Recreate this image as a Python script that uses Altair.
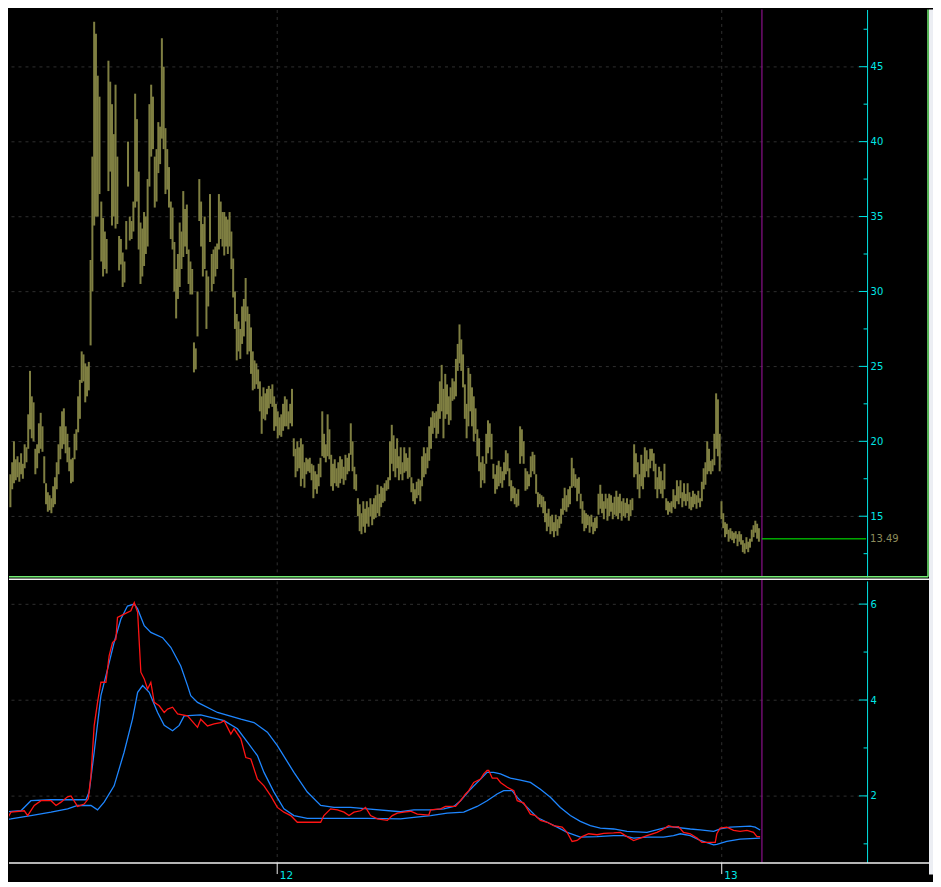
import altair as alt
import pandas as pd

# ---------------- data ----------------
# daily bars: low / high, one value per trading day (index 0 = first bar)
bar_low = [
    15.6, 16.8, 17.2, 17.4, 17.6, 17.3, 17.8, 17.5, 18.2, 18.6,
    19.5, 20.8, 20.2, 20.0, 17.8, 18.2, 19.2, 19.5, 19.3, 17.2,
    15.8, 15.3, 15.4, 15.2, 15.6, 15.8, 16.8, 17.8, 18.8, 19.5,
    19.8, 19.2, 18.6, 18.0, 17.2, 17.3, 18.8, 19.4, 20.6, 21.5,
    23.9, 24.0, 22.6, 23.0, 23.4, 26.4, 30.0, 34.4, 35.0, 35.0,
    36.5, 32.0, 31.0, 31.5, 31.2, 36.7, 38.0, 34.4, 35.0, 34.2,
    34.5, 31.4, 31.8, 30.3, 30.6, 32.8, 37.0, 33.4, 33.5, 34.0,
    35.6, 36.0, 32.8, 30.5, 31.0, 31.7, 32.5, 33.0, 37.0, 39.0,
    39.5, 35.6, 36.0, 37.9, 38.5, 40.2, 39.5, 36.5, 36.8, 35.6,
    33.5, 32.8, 30.0, 28.2, 29.5, 30.3, 31.5, 32.3, 33.0, 32.5,
    30.5, 29.8, 29.8, 24.6, 24.8, 27.0, 34.7, 33.0, 31.0, 31.5,
    27.5, 29.0, 33.3, 30.0, 30.5, 31.0, 31.5, 32.8, 33.5, 33.0,
    32.4, 33.0, 32.5, 33.0, 31.5, 29.6, 27.5, 25.4, 26.0, 25.5,
    26.5, 27.0, 28.0, 25.8, 26.0, 24.5, 23.4, 23.5, 23.8, 23.5,
    22.0, 20.5, 21.5, 21.4, 21.8, 22.2, 22.5, 22.3, 20.7, 21.0,
    20.2, 20.4, 20.3, 20.7, 21.0, 21.0, 20.8, 21.2, 21.0, 19.0,
    17.6, 18.0, 18.2, 17.0, 17.5, 16.9, 17.8, 18.0, 17.9, 17.4,
    16.2, 16.8, 16.5, 17.0, 17.6, 19.0, 18.9, 18.6, 19.0, 18.8,
    17.0, 16.7, 17.2, 17.0, 16.9, 17.2, 17.5, 17.1, 17.4, 17.8,
    18.0, 19.1, 18.0, 16.8, 16.7, 15.0, 14.0, 13.8, 14.3, 13.9,
    14.5, 14.3, 15.0, 14.4, 14.8, 14.9, 15.2, 15.0, 15.6, 15.9,
    16.0, 16.7, 16.8, 17.4, 18.5, 18.0, 17.6, 18.2, 17.4, 17.8,
    17.4, 17.9, 18.0, 17.5, 17.6, 16.6, 16.0, 15.8, 16.2, 16.4,
    16.0, 17.0, 17.6, 17.8, 18.2, 18.7, 19.5, 20.5, 20.9, 20.2,
    20.5, 21.5, 22.0, 20.2, 21.5, 21.8, 21.1, 21.4, 22.7, 22.8,
    23.0, 24.7, 25.2, 24.7, 23.6, 21.5, 20.2, 21.0, 22.0, 21.0,
    20.0, 20.5, 19.0, 18.0, 16.9, 17.4, 17.2, 18.5, 19.2, 19.6,
    18.8, 17.5, 16.5, 16.8, 17.0, 17.2, 16.9, 17.4, 17.8, 18.0,
    17.0, 16.0, 16.2, 15.8, 15.6, 15.7, 18.5, 19.0, 18.5, 16.7,
    16.8, 17.0, 17.6, 18.0, 17.8, 16.5, 15.6, 15.8, 15.6, 15.2,
    14.6, 14.0, 14.3, 13.8, 14.0, 13.6, 14.0, 13.7, 14.2, 14.5,
    15.1, 15.4, 15.3, 15.6, 15.8, 16.9, 17.0, 16.9, 16.0, 16.5,
    15.5, 14.5, 14.0, 14.2, 14.4, 13.9, 14.3, 13.8, 14.0, 14.2,
    15.1, 15.5, 15.2, 14.8, 15.5, 14.7, 15.0, 15.3, 14.8, 15.1,
    15.0, 14.8, 15.2, 14.7, 15.0, 14.9, 15.2, 14.7, 15.0, 15.4,
    17.6, 17.8, 16.8, 16.2, 17.0, 16.8, 17.6, 18.0, 17.6, 18.2,
    18.7, 18.0, 16.8, 16.2, 16.8, 16.5, 16.2, 16.8, 15.4, 15.1,
    15.3, 15.2, 15.6, 15.5, 16.0, 15.8, 16.2, 15.6, 16.0, 15.7,
    16.0, 15.5, 15.4, 15.6, 15.8, 15.5, 15.9, 15.6, 16.0, 16.8,
    17.1, 17.8, 18.0, 17.8, 18.0, 18.4, 19.5, 19.0, 18.0, 14.8,
    14.2, 13.6, 13.8, 13.3, 13.5, 13.4, 13.2, 13.5, 13.0, 13.3,
    13.1, 12.6, 12.5, 12.8, 12.6, 12.9, 13.3, 13.6, 13.9, 13.5,
    13.3,
]
bar_high = [
    17.8, 18.6, 20.0, 18.8, 19.0, 18.6, 19.2, 18.5, 19.8, 19.6,
    21.8, 24.7, 23.0, 22.6, 19.5, 19.8, 21.2, 21.9, 21.0, 19.0,
    17.2, 16.6, 16.4, 16.2, 17.0, 17.6, 18.6, 19.8, 21.0, 22.0,
    22.2, 21.0, 20.5, 19.6, 18.8, 18.9, 20.5, 20.8, 23.0, 24.1,
    26.0, 25.8, 25.2, 25.0, 25.3, 32.1, 39.0, 48.0, 47.2, 44.4,
    43.0, 36.0, 34.9, 34.0, 33.5, 45.4, 44.0, 42.5, 40.5, 43.8,
    39.0, 33.7, 33.5, 32.6, 32.0, 34.7, 40.0, 35.0, 34.7, 36.0,
    43.2, 41.5, 38.0, 34.6, 34.2, 35.3, 35.0, 37.5, 42.5, 43.8,
    43.0, 39.0, 39.5, 41.3, 41.0, 46.9, 45.0, 40.9, 39.5, 38.3,
    36.0, 35.6, 33.3, 31.5, 32.5, 34.6, 34.0, 36.7, 35.5, 35.8,
    32.8, 32.0, 31.5, 26.6, 26.2, 30.0, 37.5, 36.0, 34.5, 35.0,
    31.4, 31.0, 36.5, 32.5, 32.8, 33.0, 33.2, 36.5, 36.0, 35.3,
    35.3, 35.0, 34.8, 35.3, 34.0, 32.2, 30.0, 28.5, 28.0, 27.5,
    29.0, 29.5, 30.9, 29.0, 28.5, 27.6, 26.0, 25.4, 25.2, 24.8,
    24.0, 23.0, 23.6, 23.2, 23.5, 23.7, 23.5, 23.8, 23.0, 22.5,
    22.0, 21.6, 21.8, 22.5, 23.0, 22.8, 22.0, 22.5, 23.5, 20.2,
    19.5, 20.0, 19.6, 20.2, 19.8, 18.6, 18.9, 18.8, 18.9, 18.5,
    18.4, 18.0, 17.8, 18.5, 18.9, 22.0, 20.5, 19.8, 21.8, 20.8,
    19.1, 18.5, 18.8, 18.2, 18.6, 19.0, 18.8, 18.3, 19.1, 18.9,
    19.2, 21.2, 20.0, 18.3, 17.8, 16.2, 15.8, 15.2, 16.0, 15.5,
    16.0, 15.6, 16.2, 15.8, 16.2, 16.4, 17.1, 16.5, 17.0, 16.9,
    17.2, 17.4, 17.6, 20.0, 21.1, 20.4, 19.5, 20.2, 19.0, 19.6,
    18.6, 19.6, 19.2, 18.9, 19.6, 17.6, 17.2, 16.8, 17.3, 17.5,
    17.4, 19.0, 19.6, 19.2, 19.6, 21.0, 21.6, 22.0, 21.9, 22.0,
    22.5, 24.0, 25.1, 23.5, 24.5, 23.8, 23.0, 23.6, 24.2, 24.0,
    25.5, 26.5, 27.8, 26.8, 25.8, 23.8, 22.5, 24.9, 24.5, 23.6,
    23.0, 22.2, 20.8, 20.2, 18.6, 19.0, 18.5, 20.5, 21.4, 21.2,
    20.5, 18.5, 17.8, 18.4, 18.7, 18.3, 18.0, 18.6, 19.4, 19.2,
    18.2, 17.4, 17.0, 16.9, 16.5, 16.8, 21.0, 20.8, 20.0, 18.2,
    18.0, 17.8, 19.0, 19.3, 19.1, 17.8, 16.6, 16.5, 16.4, 16.3,
    16.0, 15.2, 15.5, 15.0, 15.1, 14.6, 15.1, 14.8, 15.0, 15.5,
    16.2, 16.9, 16.4, 16.8, 17.0, 18.9, 18.2, 17.8, 17.5, 17.6,
    16.5, 16.0, 15.4, 15.2, 15.1, 15.0, 15.1, 14.6, 14.9, 15.0,
    16.5, 17.1, 16.5, 16.0, 16.5, 16.2, 16.5, 16.4, 15.9, 16.3,
    16.7, 16.3, 16.5, 16.0, 16.2, 15.9, 16.2, 15.8, 16.1, 16.2,
    19.8, 19.2, 18.6, 17.8, 19.1, 18.5, 19.6, 19.4, 18.8, 19.5,
    19.5, 19.2, 18.5, 17.6, 18.3, 18.0, 17.4, 18.5, 16.2, 16.0,
    15.9, 16.0, 16.8, 16.4, 17.4, 17.0, 17.4, 16.6, 17.2, 16.5,
    17.2, 16.6, 16.3, 16.7, 16.5, 16.4, 16.7, 16.2, 17.3, 18.2,
    18.6, 20.0, 19.5, 18.7, 18.8, 20.5, 23.2, 22.8, 20.5, 16.0,
    15.2, 14.6, 14.5, 14.1, 14.2, 14.0, 13.9, 14.0, 13.8, 14.0,
    13.8, 13.4, 13.2, 13.6, 13.3, 13.5, 14.1, 14.4, 14.7, 14.5,
    14.2,
]

# lower panel: (bar index, value) points of the three indicator lines
red_pts = [
    (-5.3, 1.52), (-3.4, 1.42), (0.3, 1.66), (7.8, 1.69), (9.7, 1.59), (13.4, 1.80),
    (17.2, 1.90), (22.8, 1.90), (25.6, 1.80), (28.4, 1.87), (32.1, 1.98), (34.0, 2.00),
    (37.7, 1.78), (41.4, 1.83), (43.7, 1.94), (45.2, 2.42), (47.0, 3.46), (48.9, 3.95),
    (50.8, 4.37), (53.6, 4.37), (55.4, 4.92), (57.3, 5.20), (59.2, 5.27), (60.1, 5.72),
    (63.8, 5.79), (67.6, 5.86), (69.5, 6.03), (71.4, 5.83), (73.2, 4.58), (75.1, 4.44),
    (77.0, 4.23), (78.8, 4.37), (80.7, 3.95), (83.5, 3.88), (86.3, 3.74), (88.2, 3.81),
    (91.0, 3.85), (93.8, 3.71), (99.4, 3.67), (105.0, 3.43), (106.8, 3.60), (110.6, 3.46),
    (114.3, 3.50), (118.0, 3.53), (119.9, 3.57), (123.7, 3.29), (125.5, 3.40), (129.3, 3.19),
    (132.1, 2.80), (134.9, 2.77), (138.6, 2.35), (142.3, 2.21), (146.1, 2.00), (149.8, 1.76),
    (153.5, 1.66), (157.3, 1.59), (161.0, 1.45), (168.5, 1.45), (174.1, 1.45), (175.9, 1.59),
    (179.7, 1.73), (183.5, 1.71), (187.2, 1.66), (190.0, 1.59), (192.8, 1.66), (196.5, 1.69),
    (199.3, 1.76), (202.1, 1.59), (205.9, 1.52), (211.5, 1.49), (214.3, 1.59), (217.1, 1.64),
    (220.8, 1.66), (224.6, 1.68), (228.3, 1.62), (234.8, 1.60), (235.8, 1.71), (241.4, 1.73),
    (244.2, 1.78), (249.8, 1.78), (252.6, 1.90), (255.4, 2.04), (257.2, 2.11), (260.0, 2.28),
    (263.8, 2.35), (265.6, 2.46), (267.5, 2.53), (268.4, 2.53), (270.4, 2.37), (273.1, 2.37),
    (275.0, 2.28), (278.8, 2.18), (282.5, 2.11), (284.4, 1.90), (288.1, 1.85), (291.8, 1.62),
    (294.6, 1.59), (297.4, 1.49), (301.2, 1.45), (304.9, 1.38), (309.6, 1.35), (312.4, 1.24),
    (315.2, 1.05), (318.0, 1.07), (320.8, 1.15), (324.5, 1.21), (329.2, 1.19), (332.9, 1.22),
    (338.5, 1.23), (342.3, 1.24), (346.0, 1.15), (349.7, 1.07), (353.5, 1.12), (357.2, 1.17),
    (362.8, 1.24), (366.5, 1.31), (369.3, 1.38), (372.1, 1.35), (374.9, 1.36), (377.7, 1.24),
    (381.5, 1.21), (385.3, 1.12), (388.0, 1.03), (395.5, 1.03), (396.4, 1.21), (398.3, 1.33),
    (402.0, 1.35), (405.8, 1.28), (409.5, 1.26), (413.3, 1.28), (417.0, 1.24), (418.9, 1.15),
    (420.7, 1.15),
]
upper_pts = [
    (-5.3, 1.80), (-1.5, 1.67), (5.9, 1.69), (11.5, 1.90), (22.8, 1.92), (32.1, 1.92),
    (42.4, 1.92), (44.2, 2.08), (47.0, 2.91), (50.8, 4.09), (54.5, 4.64), (58.2, 5.20),
    (62.0, 5.69), (65.7, 5.96), (69.5, 6.00), (71.4, 5.90), (75.1, 5.55), (78.8, 5.41),
    (85.4, 5.30), (90.0, 5.10), (95.6, 4.71), (99.4, 4.30), (101.2, 4.09), (105.0, 3.95),
    (116.2, 3.74), (129.3, 3.60), (136.7, 3.53), (144.2, 3.33), (149.8, 3.05), (159.1, 2.49),
    (166.6, 2.08), (174.1, 1.80), (181.6, 1.76), (190.9, 1.76), (200.3, 1.73), (218.9, 1.67),
    (226.4, 1.71), (235.8, 1.71), (243.2, 1.73), (248.8, 1.78), (252.6, 1.90), (258.2, 2.14),
    (263.8, 2.35), (267.5, 2.49), (271.2, 2.49), (275.0, 2.46), (280.6, 2.37), (286.2, 2.33),
    (291.8, 2.28), (297.4, 2.14), (303.0, 1.97), (308.6, 1.76), (314.2, 1.59), (319.8, 1.47),
    (325.4, 1.38), (331.0, 1.33), (338.5, 1.31), (346.0, 1.26), (357.2, 1.24), (364.7, 1.31),
    (370.3, 1.36), (381.5, 1.31), (387.1, 1.29), (394.6, 1.26), (398.3, 1.31), (403.9, 1.35),
    (415.1, 1.37), (417.9, 1.35), (420.7, 1.29),
]
lower_pts = [
    (-5.3, 1.49), (0.3, 1.52), (11.5, 1.59), (22.8, 1.66), (32.1, 1.73), (37.7, 1.80),
    (45.2, 1.80), (48.9, 1.71), (52.6, 1.87), (58.2, 2.21), (63.8, 2.91), (68.5, 3.60),
    (71.4, 4.16), (74.2, 4.30), (77.9, 4.16), (82.6, 3.74), (86.3, 3.47), (91.0, 3.36),
    (94.7, 3.47), (97.5, 3.67), (106.8, 3.69), (119.9, 3.57), (127.4, 3.40), (133.0, 3.12),
    (138.6, 2.84), (142.3, 2.49), (147.9, 2.08), (153.5, 1.73), (159.1, 1.59), (166.6, 1.53),
    (181.6, 1.53), (200.3, 1.53), (218.9, 1.52), (226.4, 1.55), (235.8, 1.59), (245.1, 1.64),
    (254.4, 1.66), (261.9, 1.78), (267.5, 1.90), (273.1, 2.04), (276.8, 2.11), (281.5, 2.11),
    (284.4, 1.97), (290.0, 1.76), (295.6, 1.55), (301.2, 1.45), (306.8, 1.35), (312.4, 1.24),
    (319.8, 1.14), (329.2, 1.15), (338.5, 1.17), (344.1, 1.17), (349.7, 1.12), (357.2, 1.14),
    (366.5, 1.14), (372.1, 1.17), (375.9, 1.21), (381.5, 1.17), (387.1, 1.07), (394.6, 0.98),
    (396.4, 0.99), (402.0, 1.05), (409.5, 1.10), (415.1, 1.11), (420.7, 1.12),
]

year_ticks = [149.2, 398.6]          # first bars of 2012 and 2013
year_labels = ["12", "13"]
price_major = [15, 20, 25, 30, 35, 40, 45]
price_minor = [12.5, 17.5, 22.5, 27.5, 32.5, 37.5, 42.5, 47.5]
ind_major = [2, 4, 6]
ind_minor = [1, 3, 5]
last_price = 13.49
cursor_k = 421.7

# ---------------- style / layout ----------------
BG = "#000000"
OLIVE = "#7f7f42"
OLIVE_TXT = "#8c8c5c"
CYAN = "#00e6e6"
GRID = "#2f2f2f"
PURPLE = "#8b108b"
RED = "#ff1414"
BLUE = "#1e86ff"
GREEN = "#00ff00"
SEP_GREEN = "#74ee74"
WHITE = "#f0f0f0"
LIGHT = "#eceef3"
FONT = "DejaVu Sans"

W, H1, H2 = 859, 568, 282
RIGHT = 920
x_dom = [-0.785, 480.7]
price_dom = [10.953, 48.82]
ind_dom = [0.61, 6.485]

xs = alt.Scale(domain=x_dom, nice=False, zero=False)
ys1 = alt.Scale(domain=price_dom, nice=False, zero=False)
ys2 = alt.Scale(domain=ind_dom, nice=False, zero=False)

bars_df = pd.DataFrame({"k": list(range(len(bar_low))), "low": bar_low, "high": bar_high})
one = pd.DataFrame({"a": [0]})

lab_expr = "''"
for v, lab in reversed(list(zip(year_ticks, year_labels))):
    lab_expr = f"abs(datum.value - {v}) < 0.5 ? '{lab}' : ({lab_expr})"

# shared axis definitions (identical in every layer so they merge cleanly)
AX_X_TOP = alt.Axis(values=year_ticks, grid=True, gridColor=GRID, gridDash=[3, 4],
                    labels=False, ticks=False, domain=False, title=None)
AX_Y_TOP = alt.Axis(orient="right", values=price_major, grid=True, gridColor=GRID,
                    gridDash=[3, 4], ticks=False, domain=True, domainColor=CYAN,
                    labelColor=CYAN, labelFont=FONT, labelFontSize=10, labelPadding=3,
                    title=None)
AX_X_LOW = alt.Axis(orient="bottom", values=year_ticks, labelExpr=lab_expr, grid=True,
                    gridColor=GRID, gridDash=[3, 4], domain=False, ticks=True,
                    tickColor=WHITE, tickSize=11, labelColor=CYAN, labelFont=FONT,
                    labelFontSize=10.5, labelAlign="left", labelBaseline="top",
                    labelOffset=3, labelPadding=-3, labelFlush=False, title=None)
AX_Y_LOW = alt.Axis(orient="right", values=ind_major, grid=True, gridColor=GRID,
                    gridDash=[3, 4], ticks=False, domain=True, domainColor=CYAN,
                    labelColor=CYAN, labelFont=FONT, labelFontSize=10, labelPadding=3,
                    title=None)

# ---------------- top panel ----------------
bars = alt.Chart(bars_df).mark_rule(color=OLIVE, strokeWidth=2).encode(
    x=alt.X("k:Q", scale=xs, axis=AX_X_TOP),
    y=alt.Y("low:Q", scale=ys1, axis=AX_Y_TOP),
    y2="high:Q",
)

def tick_rules(values, scale, axis, length):
    return alt.Chart(pd.DataFrame({"v": values})).mark_rule(color=CYAN).encode(
        y=alt.Y("v:Q", scale=scale, axis=axis),
        x=alt.value(W - length), x2=alt.value(W))

cursor_top = alt.Chart(pd.DataFrame({"k": [cursor_k]})).mark_rule(
    color=PURPLE, strokeWidth=1.2).encode(x=alt.X("k:Q", scale=xs, axis=AX_X_TOP))

last_df = pd.DataFrame({"k": [cursor_k], "v": [last_price]})
price_line = alt.Chart(last_df).mark_rule(color=GREEN, strokeWidth=1).encode(
    x=alt.X("k:Q", scale=xs, axis=AX_X_TOP), x2=alt.value(W - 1),
    y=alt.Y("v:Q", scale=ys1, axis=AX_Y_TOP))
price_label = alt.Chart(last_df).mark_text(
    align="left", baseline="middle", color=OLIVE_TXT, font=FONT, fontSize=10, dx=3).encode(
    x=alt.value(W), y=alt.Y("v:Q", scale=ys1, axis=AX_Y_TOP),
    text=alt.Text("v:Q", format=".2f"))

sep_green = alt.Chart(one).mark_rule(color=SEP_GREEN, strokeWidth=1.5).encode(
    x=alt.value(0), x2=alt.value(RIGHT), y=alt.value(H1))
right_green = alt.Chart(one).mark_rule(color=SEP_GREEN, strokeWidth=1.5).encode(
    x=alt.value(RIGHT), y=alt.value(0), y2=alt.value(H1))
strip_top = alt.Chart(one).mark_rect(color=LIGHT).encode(
    x=alt.value(RIGHT + 1), x2=alt.value(925), y=alt.value(0), y2=alt.value(H1 + 2))

top = alt.layer(
    bars,
    tick_rules(price_major, ys1, AX_Y_TOP, 8), tick_rules(price_minor, ys1, AX_Y_TOP, 3.5),
    cursor_top, price_line, price_label, sep_green, right_green, strip_top,
).properties(width=W, height=H1)

# ---------------- lower panel ----------------
def line_layer(pts, color):
    df = pd.DataFrame(pts, columns=["k", "v"])
    return alt.Chart(df).mark_line(color=color, strokeWidth=1.3, clip=True).encode(
        x=alt.X("k:Q", scale=xs, axis=AX_X_LOW),
        y=alt.Y("v:Q", scale=ys2, axis=AX_Y_LOW))

cursor_low = alt.Chart(pd.DataFrame({"k": [cursor_k]})).mark_rule(
    color=PURPLE, strokeWidth=1.2).encode(
    x=alt.X("k:Q", scale=xs, axis=AX_X_LOW), y=alt.value(-1), y2=alt.value(H2))
sep_white = alt.Chart(one).mark_rule(color=WHITE, strokeWidth=1.5).encode(
    x=alt.value(0), x2=alt.value(RIGHT + 1), y=alt.value(-1.5))
bottom_white = alt.Chart(one).mark_rule(color=WHITE, strokeWidth=1.5).encode(
    x=alt.value(0), x2=alt.value(RIGHT + 1), y=alt.value(H2 + 0.5))
strip_low = alt.Chart(one).mark_rect(color=LIGHT).encode(
    x=alt.value(RIGHT + 1), x2=alt.value(925), y=alt.value(-4), y2=alt.value(H2 + 12))

bottom = alt.layer(
    line_layer(upper_pts, BLUE), line_layer(lower_pts, BLUE), line_layer(red_pts, RED),
    tick_rules(ind_major, ys2, AX_Y_LOW, 8), tick_rules(ind_minor, ys2, AX_Y_LOW, 3.5),
    cursor_low, sep_white, bottom_white, strip_low,
).properties(width=W, height=H2)

chart = alt.vconcat(top, bottom, spacing=4, bounds="flush").properties(
    padding=0
).configure(background=BG).configure_view(stroke=None)

chart.save("out.html", embed_options={"renderer": "svg", "actions": False})
